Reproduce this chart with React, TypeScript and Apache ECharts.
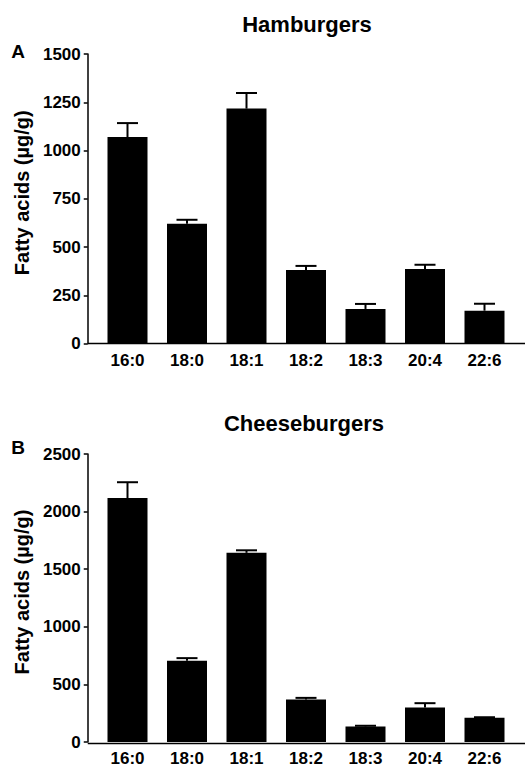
import React, { useEffect, useRef } from "react";
import * as echarts from "echarts";

// Fatty acid classes on the x axis
const categories = ["16:0", "18:0", "18:1", "18:2", "18:3", "20:4", "22:6"];

// Panel A: hamburgers (µg/g), mean and SEM
const hamburgerMeans = [1070, 620, 1217, 381, 179, 386, 170];
const hamburgerErrors = [72, 21, 81, 21, 26, 22, 36];

// Panel B: cheeseburgers (µg/g), mean and SEM
const cheeseburgerMeans = [2117, 705, 1642, 368, 135, 299, 210];
const cheeseburgerErrors = [138, 23, 22, 15, 6, 38, 5];

// Y axis ranges
const hamburgerAxis = { max: 1500, interval: 250 };
const cheeseburgerAxis = { max: 2500, interval: 500 };

const FONT = "'Liberation Sans', Arial, Helvetica, sans-serif";
const W = 525;
const H = 767;
const AXIS_X = 87.75;
const PLOT_LEFT = 97.75;
const PLOT_WIDTH = 416.5;
const TOP_A = 54;
const TOP_B = 454;
const PLOT_H = 289.5;

function errorBarItem(params: any, api: any) {
  const x = api.value(0);
  const base = api.coord([x, api.value(1)]);
  const top = api.coord([x, api.value(2)]);
  const half = 10.5;
  const style = { stroke: "#000", lineWidth: 2 };
  return {
    type: "group",
    children: [
      { type: "line", shape: { x1: base[0], y1: base[1], x2: top[0], y2: top[1] }, style },
      { type: "line", shape: { x1: top[0] - half, y1: top[1], x2: top[0] + half, y2: top[1] }, style },
    ],
  };
}

function yAxisFor(gridIndex: number, cfg: { max: number; interval: number }) {
  return {
    type: "value",
    gridIndex,
    min: 0,
    max: cfg.max,
    interval: cfg.interval,
    offset: PLOT_LEFT - AXIS_X,
    name: "Fatty acids (µg/g)",
    nameLocation: "middle",
    nameRotate: 90,
    nameGap: 50,
    nameTextStyle: {
      fontFamily: FONT,
      fontWeight: "bold",
      fontSize: 20,
      color: "#000",
      padding: [0, 0, 0, 12],
    },
    axisLine: { show: true, lineStyle: { color: "#000", width: 1.5 } },
    axisTick: { show: true, inside: false, length: 4, lineStyle: { color: "#000", width: 1.5 } },
    axisLabel: {
      fontFamily: FONT,
      fontWeight: "bold",
      fontSize: 17,
      color: "#000",
      margin: 7,
      formatter: (v: number) => String(v),
    },
    splitLine: { show: false },
  };
}

function xAxisFor(gridIndex: number) {
  return {
    type: "category",
    gridIndex,
    data: categories,
    axisLine: { show: false },
    axisTick: { show: false },
    axisLabel: { fontFamily: FONT, fontWeight: "bold", fontSize: 17, color: "#000", margin: 8, interval: 0 },
  };
}

function barSeries(idx: number, values: number[]) {
  return {
    type: "bar",
    xAxisIndex: idx,
    yAxisIndex: idx,
    data: values,
    barWidth: 40,
    itemStyle: { color: "#000" },
    z: 2,
  };
}

function errorSeries(idx: number, means: number[], errs: number[]) {
  return {
    type: "custom",
    xAxisIndex: idx,
    yAxisIndex: idx,
    renderItem: errorBarItem,
    data: means.map((m, i) => [i, m, m + errs[i]]),
    z: 3,
  };
}

function label(text: string, x: number, y: number, size: number) {
  return {
    type: "text",
    x,
    y,
    style: {
      text,
      fontFamily: FONT,
      fontWeight: "bold",
      fontSize: size,
      fill: "#000",
      textAlign: "center",
      textVerticalAlign: "middle",
    },
  };
}

function baseline(y: number) {
  return {
    type: "line",
    shape: { x1: AXIS_X, y1: y, x2: W, y2: y },
    style: { stroke: "#000", lineWidth: 1.5 },
  };
}

export default function App() {
  const ref = useRef<HTMLDivElement>(null);

  useEffect(() => {
    if (!ref.current) return;
    const chart = echarts.init(ref.current, null, { renderer: "svg" });
    chart.setOption({
      animation: false,
      backgroundColor: "#fff",
      grid: [
        { left: PLOT_LEFT, width: PLOT_WIDTH, top: TOP_A, height: PLOT_H },
        { left: PLOT_LEFT, width: PLOT_WIDTH, top: TOP_B, height: PLOT_H },
      ],
      xAxis: [xAxisFor(0), xAxisFor(1)],
      yAxis: [yAxisFor(0, hamburgerAxis), yAxisFor(1, cheeseburgerAxis)],
      series: [
        barSeries(0, hamburgerMeans),
        errorSeries(0, hamburgerMeans, hamburgerErrors),
        barSeries(1, cheeseburgerMeans),
        errorSeries(1, cheeseburgerMeans, cheeseburgerErrors),
      ],
      graphic: [
        baseline(TOP_A + PLOT_H),
        baseline(TOP_B + PLOT_H),
        label("Hamburgers", 307, 24, 22),
        label("Cheeseburgers", 304, 423, 22),
        label("A", 18, 51, 19),
        label("B", 18, 447, 19),
      ],
    });
    return () => chart.dispose();
  }, []);

  return (
    <div
      ref={ref}
      style={{ position: "fixed", left: 0, top: 0, width: W, height: H, background: "#fff" }}
    />
  );
}
